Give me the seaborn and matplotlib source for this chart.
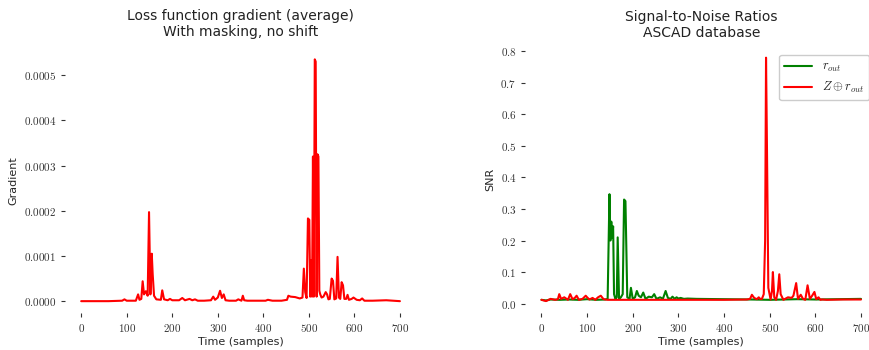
import matplotlib
matplotlib.use("Agg")
import matplotlib.pyplot as plt
import matplotlib.ticker as mticker
import numpy as np
import seaborn as sns

# Loss gradient (average), key points
grad_t = [0, 60, 90, 95, 100, 120, 125, 128, 132, 135, 138, 142, 146, 149, 152, 155, 157, 160,
          165, 175, 178, 182, 190, 195, 200, 215, 222, 228, 238, 244, 250, 256, 270, 285, 290,
          294, 300, 305, 309, 313, 317, 325, 340, 345, 352, 355, 358, 365, 380, 405, 410, 420,
          440, 452, 455, 460, 470, 480, 486, 489, 492, 495, 498, 501, 503, 505, 507, 509, 511,
          513, 515, 517, 519, 521, 523, 525, 528, 532, 537, 540, 543, 546, 550, 553, 556, 560,
          563, 566, 569, 572, 575, 578, 582, 585, 588, 594, 598, 605, 612, 617, 622, 640, 670, 700]
grad_v = [0.0, 0.0, 1e-6, 4e-6, 1e-6, 1e-6, 1.5e-5, 3e-6, 5e-6, 4.4e-5, 1.5e-5, 2.2e-5, 1.2e-5,
          1.97e-4, 1.5e-5, 1.05e-4, 6e-5, 1.2e-5, 4e-6, 3e-6, 2.4e-5, 4e-6, 2e-6, 5e-6, 2e-6,
          2e-6, 7e-6, 2e-6, 5e-6, 2e-6, 4e-6, 1e-6, 1e-6, 2e-6, 1e-5, 3e-6, 8e-6, 2.3e-5, 7e-6,
          1.5e-5, 2e-6, 1e-6, 1e-6, 4e-6, 1e-6, 1.2e-5, 2e-6, 1e-6, 1e-6, 1e-6, 3e-6, 1e-6,
          1e-6, 3e-6, 1.2e-5, 1e-5, 9e-6, 6e-6, 8e-6, 7.2e-5, 2e-5, 7e-6, 1.83e-4, 1.8e-4, 1e-5,
          9e-5, 1e-5, 3.2e-4, 1e-5, 5.35e-4, 5.3e-4, 1e-5, 3.25e-4, 3.2e-4, 2.3e-5, 1.5e-5, 8e-6,
          1e-5, 2e-5, 1.5e-5, 4e-6, 5e-6, 5e-5, 4.5e-5, 4e-6, 6e-6, 9.8e-5, 8e-6, 5e-6, 4.2e-5,
          3.5e-5, 5e-6, 5e-6, 1.4e-5, 3e-6, 5e-6, 8e-6, 3e-6, 2e-6, 6e-6, 1e-6, 1e-6, 2e-6, 0.0]

# SNR r_out (green)
snr_g_t = [0, 10, 20, 40, 60, 80, 100, 120, 140, 145, 149, 151, 153, 155, 157, 159, 162, 165,
           167, 170, 174, 178, 181, 184, 188, 193, 196, 200, 205, 209, 213, 218, 223, 228, 235,
           242, 247, 252, 260, 266, 272, 277, 283, 287, 292, 296, 300, 305, 312, 320, 340, 400,
           460, 500, 560, 600, 650, 700]
snr_g_v = [0.012, 0.01, 0.013, 0.012, 0.013, 0.012, 0.014, 0.012, 0.013, 0.015, 0.347, 0.2,
           0.26, 0.21, 0.245, 0.03, 0.015, 0.02, 0.21, 0.015, 0.02, 0.03, 0.33, 0.325, 0.02, 0.015,
           0.05, 0.015, 0.02, 0.04, 0.025, 0.02, 0.035, 0.015, 0.022, 0.02, 0.03, 0.015, 0.02,
           0.015, 0.04, 0.018, 0.015, 0.022, 0.015, 0.02, 0.016, 0.018, 0.015, 0.016, 0.015,
           0.014, 0.013, 0.012, 0.014, 0.013, 0.014, 0.015]

# SNR Z xor r_out (red)
snr_r_t = [0, 10, 20, 30, 36, 39, 43, 50, 58, 63, 68, 73, 77, 82, 90, 97, 100, 105, 112, 118,
           124, 130, 136, 145, 200, 300, 400, 450, 457, 461, 466, 472, 476, 479, 483, 487, 490,
           492, 494, 497, 502, 505, 507, 510, 514, 518, 521, 524, 530, 540, 548, 552, 558, 562,
           568, 573, 578, 583, 588, 593, 598, 602, 607, 611, 615, 625, 660, 700]
snr_r_v = [0.012, 0.008, 0.015, 0.012, 0.014, 0.03, 0.015, 0.02, 0.012, 0.03, 0.014, 0.018,
           0.025, 0.012, 0.015, 0.025, 0.02, 0.013, 0.018, 0.012, 0.02, 0.025, 0.014, 0.012,
           0.012, 0.012, 0.012, 0.013, 0.015, 0.028, 0.018, 0.014, 0.02, 0.015, 0.015, 0.03,
           0.2, 0.78, 0.5, 0.05, 0.013, 0.04, 0.1, 0.02, 0.012, 0.04, 0.093, 0.03, 0.012, 0.02,
           0.018, 0.025, 0.065, 0.015, 0.028, 0.015, 0.012, 0.058, 0.015, 0.025, 0.037, 0.014,
           0.02, 0.012, 0.013, 0.012, 0.013, 0.013]

sns.set_style("ticks")
plt.rcParams["font.family"] = ["DejaVu Sans"]
plt.rcParams["mathtext.fontset"] = "cm"

fig = plt.figure(figsize=(8.7, 3.5), dpi=100)
ax1 = fig.add_axes([0.075, 0.105, 0.403, 0.76])
ax2 = fig.add_axes([0.604, 0.105, 0.404, 0.765])

sns.lineplot(x=grad_t, y=grad_v, ax=ax1, color="red", linewidth=1.5, sort=False)
sns.lineplot(x=snr_g_t, y=snr_g_v, ax=ax2, color="green", linewidth=1.5, sort=False,
             label=r"$r_{out}$")
sns.lineplot(x=snr_r_t, y=snr_r_v, ax=ax2, color="red", linewidth=1.5, sort=False,
             label=r"$Z \oplus r_{out}$")

ax1.set_title("Loss function gradient (average)\nWith masking, no shift", fontsize=10,
              color="#222222", pad=8)
ax2.set_title("Signal-to-Noise Ratios\nASCAD database", fontsize=10, color="#222222", pad=6)
ax1.set_ylabel("Gradient", fontsize=8)
ax2.set_ylabel("SNR", fontsize=8)
for ax in (ax1, ax2):
    ax.set_xlabel("Time (samples)", fontsize=8, labelpad=2)
    ax.set_xticks(np.arange(0, 701, 100))
    ax.xaxis.set_major_formatter(mticker.FuncFormatter(lambda v, p: f"${v:.0f}$"))
    ax.tick_params(labelsize=8, length=3, colors="#333333")
    sns.despine(ax=ax, left=True, bottom=True)

ax1.set_yticks(np.arange(0, 0.00051, 0.0001))
ax1.yaxis.set_major_formatter(mticker.FuncFormatter(lambda v, p: f"${v:.4f}$"))
ax2.set_yticks(np.arange(0, 0.81, 0.1))
ax2.yaxis.set_major_formatter(mticker.FuncFormatter(lambda v, p: f"${v:.1f}$"))

ax2.legend(loc="upper right", fontsize=9, frameon=True, handlelength=2.2,
           handletextpad=0.8, borderpad=0.4, borderaxespad=0.0, framealpha=1.0,
           bbox_to_anchor=(0.999, 0.843), bbox_transform=fig.transFigure)

fig.savefig("out.png", dpi=100)
